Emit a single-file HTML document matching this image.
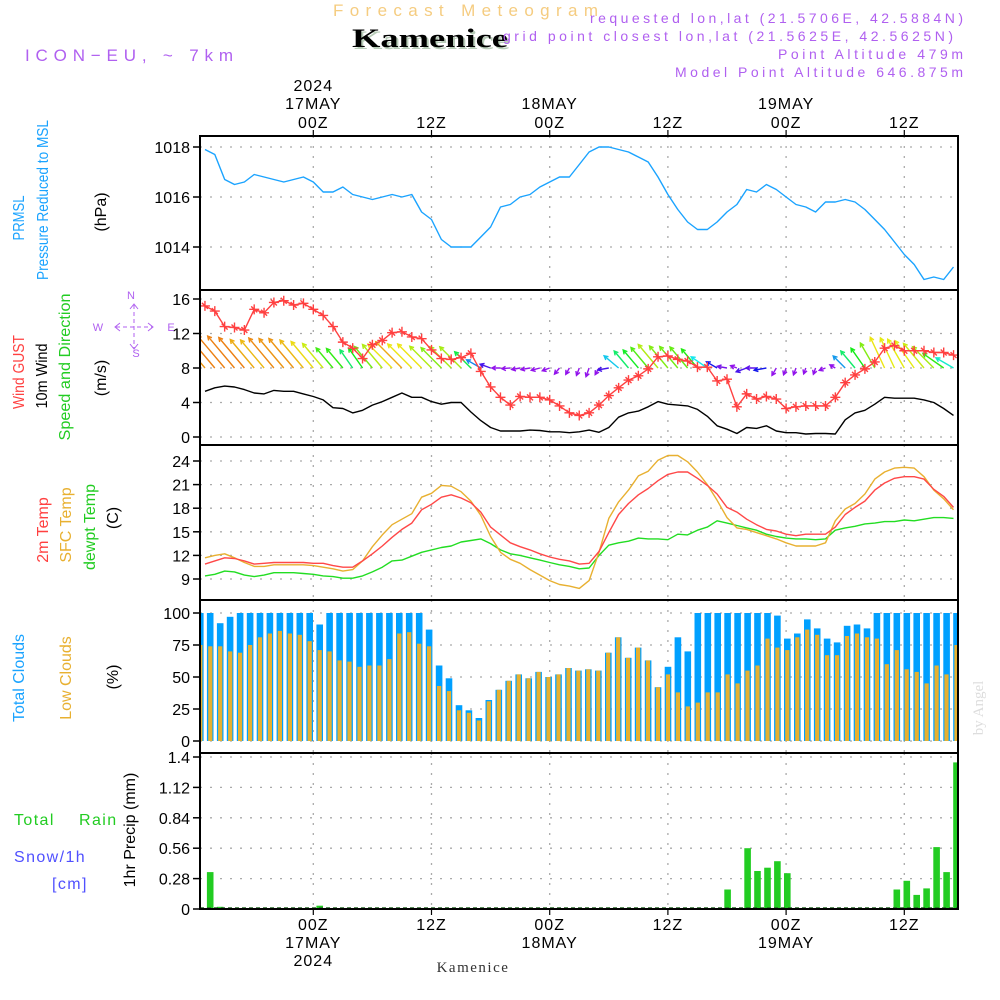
<!DOCTYPE html>
<html><head><meta charset="utf-8"><title>Meteogram Kamenice</title>
<style>
html,body{margin:0;padding:0;background:#fff;}
svg{display:block;font-family:"Liberation Sans",sans-serif;}
.tk{font-size:16px;fill:#000;}
.lab{font-size:16px;}
</style></head>
<body>
<svg id="chart" xmlns="http://www.w3.org/2000/svg" width="1000" height="1000" viewBox="0 0 1000 1000">
<rect x="0" y="0" width="1000" height="1000" fill="#fff"/>
<text x="333" y="16" textLength="265" lengthAdjust="spacing" font-size="17" fill="#f5cc80">Forecast Meteogram</text>
<text x="354" y="49" textLength="156" lengthAdjust="spacingAndGlyphs" font-size="26" font-weight="bold" font-family="Liberation Serif, serif" fill="#b8ccb8">Kamenice</text>
<text x="352" y="47" textLength="156" lengthAdjust="spacingAndGlyphs" font-size="26" font-weight="bold" font-family="Liberation Serif, serif" fill="#000">Kamenice</text>
<text x="25" y="61" textLength="208" lengthAdjust="spacing" font-size="17" fill="#b060f0">ICON−EU, ~ 7km</text>
<g font-size="14" fill="#b060f0">
<text x="590" y="23" textLength="373" lengthAdjust="spacing">requested lon,lat (21.5706E, 42.5884N)</text>
<text x="503" y="41" textLength="450" lengthAdjust="spacing">grid point closest lon,lat (21.5625E, 42.5625N)</text>
<text x="778" y="59" textLength="185" lengthAdjust="spacing">Point Altitude 479m</text>
<text x="675" y="77" textLength="288" lengthAdjust="spacing">Model Point Altitude 646.875m</text>
</g>
<!-- left labels -->
<g class="lab">
<text transform="translate(24,218) rotate(-90)" text-anchor="middle" textLength="45" lengthAdjust="spacingAndGlyphs" fill="#1aa3ff">PRMSL</text>
<text transform="translate(48,200) rotate(-90)" text-anchor="middle" textLength="160" lengthAdjust="spacingAndGlyphs" fill="#1aa3ff">Pressure Reduced to MSL</text>
<text transform="translate(106,212) rotate(-90)" text-anchor="middle" fill="#000">(hPa)</text>
<text transform="translate(24,372) rotate(-90)" text-anchor="middle" textLength="74" lengthAdjust="spacingAndGlyphs" fill="#ff4040">Wind GUST</text>
<text transform="translate(47,376) rotate(-90)" text-anchor="middle" textLength="65" lengthAdjust="spacingAndGlyphs" fill="#000">10m Wind</text>
<text transform="translate(70,367) rotate(-90)" text-anchor="middle" textLength="147" lengthAdjust="spacingAndGlyphs" fill="#22cc22">Speed and Direction</text>
<text transform="translate(106,378) rotate(-90)" text-anchor="middle" fill="#000">(m/s)</text>
<text transform="translate(48,530) rotate(-90)" text-anchor="middle" fill="#ff4040">2m Temp</text>
<text transform="translate(71,525) rotate(-90)" text-anchor="middle" fill="#e8b030">SFC Temp</text>
<text transform="translate(95,527) rotate(-90)" text-anchor="middle" fill="#22cc22">dewpt Temp</text>
<text transform="translate(118,518) rotate(-90)" text-anchor="middle" fill="#000">(C)</text>
<text transform="translate(24,678) rotate(-90)" text-anchor="middle" fill="#1aa3ff">Total Clouds</text>
<text transform="translate(71,678) rotate(-90)" text-anchor="middle" fill="#e8b030">Low Clouds</text>
<text transform="translate(118,677) rotate(-90)" text-anchor="middle" fill="#000">(%)</text>
<text transform="translate(135,830) rotate(-90)" text-anchor="middle" fill="#000">1hr Precip (mm)</text>
</g>
<g font-size="16" letter-spacing="1.4">
<text x="14" y="825" fill="#22cc22">Total</text>
<text x="79" y="825" fill="#22cc22">Rain</text>
<text x="14" y="862" fill="#5050ff">Snow/1h</text>
<text x="52" y="889" fill="#5050ff">[cm]</text>
</g>
<g fill="#b060f0" stroke="#b060f0" font-size="11">
<text x="131" y="299" text-anchor="middle" stroke="none">N</text>
<text x="98" y="331" text-anchor="middle" stroke="none">W</text>
<text x="171" y="331" text-anchor="middle" stroke="none">E</text>
<text x="136" y="357" text-anchor="middle" stroke="none">S</text>
<line x1="116" y1="327" x2="152" y2="327" stroke-dasharray="4 3" stroke-width="1"/>
<line x1="134" y1="305" x2="134" y2="348" stroke-dasharray="4 3" stroke-width="1"/>
<path d="M120 323 L115 327 L120 331 M148 323 L153 327 L148 331 M130 309 L134 304 L138 309 M130 344 L134 349 L138 344" fill="none" stroke-width="1"/>
</g>
<text transform="translate(983,708) rotate(-90)" text-anchor="middle" font-size="15" font-family="Liberation Serif, serif" fill="#dddddd">by Angel</text>
<text x="473" y="972" text-anchor="middle" font-size="15" font-family="Liberation Serif, serif" fill="#333" letter-spacing="1.5">Kamenice</text>
<g id="plot"></g>
</svg>
<script>
// ---- data (hourly, starting 13Z 16 May) ----
const pressure = [1017.9,1017.7,1016.7,1016.5,1016.6,1016.9,1016.8,1016.7,1016.6,1016.7,1016.8,1016.6,1016.2,1016.2,1016.4,1016.1,1016.0,1015.9,1016.0,1016.1,1016.0,1016.1,1015.4,1015.1,1014.3,1014.0,1014.0,1014.0,1014.4,1014.8,1015.6,1015.7,1016.0,1016.1,1016.4,1016.6,1016.8,1016.8,1017.3,1017.8,1018.0,1018.0,1017.9,1017.8,1017.6,1017.4,1016.8,1016.1,1015.5,1015.0,1014.7,1014.7,1015.0,1015.4,1015.7,1016.3,1016.2,1016.5,1016.3,1016.0,1015.7,1015.6,1015.4,1015.8,1015.8,1015.9,1015.8,1015.5,1015.1,1014.7,1014.2,1013.7,1013.3,1012.7,1012.8,1012.7,1013.2];
const windGust = [15.2,14.6,12.8,12.7,12.4,14.8,14.4,15.6,15.8,15.3,15.5,14.8,14.1,12.8,11.0,10.3,9.1,10.7,11.2,12.1,12.2,11.6,11.4,10.1,9.1,9.0,9.2,9.7,7.6,5.8,4.6,3.7,4.7,4.6,4.6,4.3,3.6,2.8,2.5,2.8,3.7,4.8,5.7,6.6,7.1,7.9,9.3,9.4,9.0,8.8,8.1,8.1,6.5,6.7,3.5,5.0,4.4,4.7,4.4,3.3,3.5,3.6,3.6,3.6,4.6,6.3,7.2,7.9,8.7,10.3,10.6,10.0,10.0,10.0,9.8,9.8,9.5];
const windSpeed = [5.3,5.7,5.9,5.8,5.5,5.1,5.0,5.4,5.3,5.3,5.0,4.7,4.3,3.4,3.3,2.8,3.1,3.7,4.1,4.6,5.1,4.6,4.6,4.1,3.8,4.0,4.0,2.9,1.9,1.1,0.7,0.7,0.7,0.8,0.75,0.6,0.6,0.5,0.6,0.8,0.55,1.1,2.3,2.8,3.0,3.5,4.1,3.8,3.7,3.6,3.2,2.4,1.3,0.9,0.4,1.1,1.0,1.3,0.7,0.5,0.5,0.35,0.4,0.4,0.35,2.0,2.8,3.1,3.8,4.6,4.5,4.5,4.5,4.3,4.0,3.3,2.5];
const windDir = [140,140,140,140,140,140,140,140,140,140,140,140,140,140,140,145,145,140,140,135,135,135,135,135,135,135,135,135,120,110,90,85,80,80,75,70,40,30,20,20,30,80,130,140,140,140,140,140,140,140,140,125,120,100,110,70,90,80,30,20,20,20,20,70,120,135,140,145,150,155,155,150,145,140,135,125,120];
const temp2m = [10.9,11.3,11.7,11.6,11.3,10.9,11.0,11.1,11.1,11.1,11.1,11.0,11.0,10.7,10.5,10.5,11.3,12.2,13.2,14.3,15.3,16.1,17.8,18.5,19.4,19.7,19.3,18.7,17.5,15.6,14.6,13.6,13.1,12.7,12.2,11.8,11.5,11.3,10.9,11.0,12.5,14.9,17.2,18.6,19.7,20.5,21.5,22.3,22.6,22.6,21.8,20.9,19.8,18.1,17.5,16.6,15.9,15.3,15.1,14.7,14.5,14.7,14.7,14.7,15.6,17.2,18.1,18.9,20.3,21.2,21.8,22.0,22.0,21.7,20.4,19.5,18.1];
const tempSfc = [11.7,12.0,12.2,11.7,11.1,10.6,10.6,10.8,10.8,10.8,10.8,10.7,10.5,10.3,10.0,10.2,11.3,13.1,14.6,15.9,16.6,17.3,19.4,19.9,20.9,20.8,20.1,18.9,17.1,14.4,12.4,11.5,11.0,10.2,9.5,8.8,8.3,8.1,7.8,8.8,12.4,16.7,18.8,20.3,22.1,22.7,24.1,24.7,24.7,23.9,22.6,21.0,19.0,16.8,15.5,15.3,14.9,14.5,14.1,13.6,13.2,13.2,13.2,13.6,16.4,17.9,18.6,19.8,21.7,22.6,23.1,23.2,23.1,22.0,20.3,19.2,17.8];
const tempDew = [9.4,9.6,10.0,9.9,9.5,9.3,9.5,9.8,9.8,9.8,9.7,9.6,9.4,9.3,9.1,9.1,9.4,9.9,10.5,11.3,11.4,11.9,12.4,12.7,13.0,13.2,13.7,13.9,14.1,13.5,12.7,12.2,12.0,11.7,11.4,11.1,10.8,10.6,10.3,10.4,12.0,13.3,13.6,13.8,14.2,14.1,14.1,14.0,14.7,14.6,15.2,15.6,16.4,16.1,15.8,15.5,15.2,14.7,14.4,14.2,14.1,14.1,14.0,14.1,15.2,15.5,15.7,16.0,16.1,16.3,16.3,16.5,16.4,16.6,16.8,16.8,16.7];
const cloudTotal = [100,100,92,97,100,100,100,100,100,100,100,100,91,100,100,100,100,100,100,100,100,100,100,87,59,49,28,24,18,32,40,47,52,49,54,50,52,57,55,56,55,69,81,65,73,63,42,58,81,70,100,100,100,100,100,100,100,100,98,80,84,95,88,80,77,90,91,88,100,100,100,100,100,100,100,100,100];
const cloudLow = [75,74,74,70,69,75,81,84,86,84,83,78,71,70,63,62,58,59,59,64,84,85,76,74,43,39,24,22,16,31,40,47,52,49,54,50,52,57,55,56,55,69,81,65,73,63,42,52,38,27,30,38,38,52,45,55,59,80,73,71,81,87,83,67,67,82,84,81,80,60,71,56,54,45,59,52,75];
const precip = [0,0.34,0.02,0,0,0,0,0,0,0,0,0,0.03,0,0,0,0,0,0,0,0,0,0,0,0,0,0,0,0,0,0,0,0,0,0,0,0,0,0,0,0,0,0,0,0,0,0,0,0,0,0,0,0,0.18,0,0.56,0.35,0.38,0.44,0.33,0,0,0,0,0,0,0,0,0,0,0.18,0.26,0.13,0.19,0.57,0.34,1.35];
const pressTicks = [1014,1016,1018];
const windTicks = [0,4,8,12,16];
const tempTicks = [9,12,15,18,21,24];
const cloudTicks = [0,25,50,75,100];
const precipTicks = [0,0.28,0.56,0.84,1.12,1.4];
const timeTickHours = [11,23,35,47,59,71];
const timeTickLabels = ["00Z","12Z","00Z","12Z","00Z","12Z"];
const timeTickDates = ["17MAY","","18MAY","","19MAY",""];
const timeTickYears = ["2024","","","","",""];

// ---- geometry ----
const NS = "http://www.w3.org/2000/svg";
const plot = document.getElementById('plot');
const X0 = 200, X1 = 958;
function xAt(i){ return 313.3 + (i - 11) * 9.85; }
function xBar(i){ return 200.3 + i * 9.95; }
function mk(tag, attrs, parent){
  const e = document.createElementNS(NS, tag);
  for (const k in attrs) e.setAttribute(k, attrs[k]);
  (parent || plot).appendChild(e);
  return e;
}
function lin(vA, pA, vB, pB){ return v => pA + (v - vA) * (pB - pA) / (vB - vA); }
const yPress = lin(1018,147,1014,247);
const yWind = lin(16,299,0,437);
const yTemp = lin(24,461,9,579);
const yCloud = lin(100,613,0,741);
const yPrecip = lin(1.4,757,0,909);
const panelBoxes = [[136,290,'pressure-panel'],[290,445,'wind-panel'],[445,600,'temperature-panel'],[600,753,'cloud-panel'],[753,909,'precip-panel']];

function clipFor(id, top, bot){
  const cp = mk('clipPath', {id:id});
  mk('rect', {x:X0, y:top, width:X1-X0, height:bot-top}, cp);
  return 'url(#' + id + ')';
}

function grid(top, bot, ticks, yf, fmt, nm){
  const g = mk('g', {});
  
  
  ticks.forEach(t => {
    const y = yf(t);
    const l = mk('line', {x1:X0, x2:X1, y1:y, y2:y, stroke:'#aaa', 'stroke-width':1.3, 'stroke-dasharray':'2 8'}, g);
    
    
    const tk = mk('line', {x1:X0-7, x2:X0, y1:y, y2:y, stroke:'#000', 'stroke-width':1.5}, g);
    
    
    const tx = mk('text', {x:X0-10, y:y+6, 'text-anchor':'end', class:'tk'}, g);
    tx.textContent = fmt(t);
    
    
  });
  timeTickHours.forEach(h => {
    const x = xAt(h);
    const l = mk('line', {x1:x, x2:x, y1:top, y2:bot, stroke:'#aaa', 'stroke-width':1.3, 'stroke-dasharray':'2 8'}, g);
    
    
  });
}
grid(136,290,pressTicks,yPress,t=>String(t),'pressure');
grid(290,445,windTicks,yWind,t=>String(t),'wind');
grid(445,600,tempTicks,yTemp,t=>String(t),'temperature');
grid(600,753,cloudTicks,yCloud,t=>String(t),'cloud');
grid(753,909,precipTicks,yPrecip,t=>String(t),'precip');

function polyline(vals, yf, color, nm, clip){
  const pts = vals.map((v,i) => xAt(i).toFixed(1) + ',' + yf(v).toFixed(1)).join(' ');
  const p = mk('polyline', {points:pts, fill:'none', stroke:color, 'stroke-width':1.4, 'stroke-linejoin':'round', 'clip-path':clip});
  
  
  return p;
}

// pressure
const c1 = clipFor('c1',136,290);
polyline(pressure, yPress, '#1aa3ff', 'pressure-line', c1);

// wind
const c2 = clipFor('c2',290,445);
const hueStops = [[0.8,275],[1.5,225],[2.3,190],[3.0,125],[4.0,80],[4.6,58],[5.5,30]];
function hueFor(s){
  if (s <= hueStops[0][0]) return hueStops[0][1];
  for (let k=1;k<hueStops.length;k++){
    if (s <= hueStops[k][0]){
      const a=hueStops[k-1], b=hueStops[k];
      return a[1] + (s-a[0])*(b[1]-a[1])/(b[0]-a[0]);
    }
  }
  return hueStops[hueStops.length-1][1];
}
const arrowsG = mk('g', {'clip-path':c2});


windSpeed.forEach((s,i) => {
  const bx = xAt(i), by = yWind(8);
  const b = (windDir[i] + 180) * Math.PI / 180;
  const len = 4 + 6.5 * s;
  const tx = bx + Math.sin(b)*len, ty = by - Math.cos(b)*len;
  const ang = Math.atan2(ty-by, tx-bx);
  const h = 4.5;
  const hx1 = tx - h*Math.cos(ang-0.5), hy1 = ty - h*Math.sin(ang-0.5);
  const hx2 = tx - h*Math.cos(ang+0.5), hy2 = ty - h*Math.sin(ang+0.5);
  const col = 'hsl(' + hueFor(s).toFixed(0) + ',85%,50%)';
  const a = mk('path', {d:'M'+bx.toFixed(1)+' '+by.toFixed(1)+' L'+tx.toFixed(1)+' '+ty.toFixed(1)+' M'+hx1.toFixed(1)+' '+hy1.toFixed(1)+' L'+tx.toFixed(1)+' '+ty.toFixed(1)+' L'+hx2.toFixed(1)+' '+hy2.toFixed(1), stroke:col, 'stroke-width':1.4, fill:'none'}, arrowsG);
  
  
});
polyline(windSpeed, yWind, '#000', 'wind-speed-line', c2);
polyline(windGust, yWind, '#ff4040', 'wind-gust-line', c2);
const gustG = mk('g', {'clip-path':c2, stroke:'#ff4040', 'stroke-width':1.4});


windGust.forEach((v,i) => {
  const x = xAt(i), y = yWind(v);
  const m = mk('path', {d:'M'+(x-5)+' '+y+' H'+(x+5)+' M'+x+' '+(y-5)+' V'+(y+5)+' M'+(x-3)+' '+(y-3)+' L'+(x+3)+' '+(y+3)}, gustG);
  
  
});

// temperature
const c3 = clipFor('c3',445,600);
polyline(tempDew, yTemp, '#22dd22', 'dewpoint-line', c3);
polyline(tempSfc, yTemp, '#e8b030', 'sfc-temp-line', c3);
polyline(temp2m, yTemp, '#ff4848', 'temp-2m-line', c3);

// clouds
const c4 = clipFor('c4',600,753);
const cloudG = mk('g', {'clip-path':c4});


cloudTotal.forEach((v,i) => {
  const cx = xBar(i);
  const y = yCloud(v);
  const r = mk('rect', {x:(cx-3.3).toFixed(1), y:y.toFixed(1), width:6.6, height:(yCloud(0)-y).toFixed(1), fill:'#00a0ff'}, cloudG);
  
  
  const yl = yCloud(cloudLow[i]);
  const r2 = mk('rect', {x:(cx-2.1).toFixed(1), y:yl.toFixed(1), width:4.2, height:(yCloud(0)-yl).toFixed(1), fill:'#e6b030'}, cloudG);
  
  
});

// precip
const c5 = clipFor('c5',753,909);
const precG = mk('g', {'clip-path':c5});


precip.forEach((v,i) => {
  if (v <= 0) return;
  const cx = xBar(i);
  const y = yPrecip(v);
  const r = mk('rect', {x:(cx-3.3).toFixed(1), y:y.toFixed(1), width:6.6, height:(yPrecip(0)-y).toFixed(1), fill:'#22cc22'}, precG);
  
  
});
const base = mk('line', {x1:X0, x2:X1, y1:908, y2:908, stroke:'#226622', 'stroke-width':1.5, 'stroke-dasharray':'4 3'});



// frames
panelBoxes.forEach(p => {
  const r = mk('rect', {x:X0, y:p[0], width:X1-X0, height:p[1]-p[0], fill:'none', stroke:'#000', 'stroke-width':2});
  
  
});

// time axes
const axG = mk('g', {class:'tk', 'text-anchor':'middle', 'letter-spacing':'1'});


timeTickHours.forEach((h,k) => {
  const x = xAt(h);
  const t1 = mk('line', {x1:x, x2:x, y1:130, y2:136, stroke:'#000', 'stroke-width':1.2}, axG);
  
  
  const t2 = mk('line', {x1:x, x2:x, y1:909, y2:915, stroke:'#000', 'stroke-width':1.2}, axG);
  
  
  const a = mk('text', {x:x, y:128}, axG);
  a.textContent = timeTickLabels[k];
  
  
  const b = mk('text', {x:x, y:930}, axG);
  b.textContent = timeTickLabels[k];
  
  
  if (timeTickDates[k]) {
    const d = mk('text', {x:x, y:109}, axG);
    d.textContent = timeTickDates[k];
    
    
    const d2 = mk('text', {x:x, y:948}, axG);
    d2.textContent = timeTickDates[k];
    
    
  }
  if (timeTickYears[k]) {
    const y1 = mk('text', {x:x, y:91}, axG);
    y1.textContent = timeTickYears[k];
    
    
    const y2 = mk('text', {x:x, y:966}, axG);
    y2.textContent = timeTickYears[k];
    
    
  }
});
</script>
</body></html>
